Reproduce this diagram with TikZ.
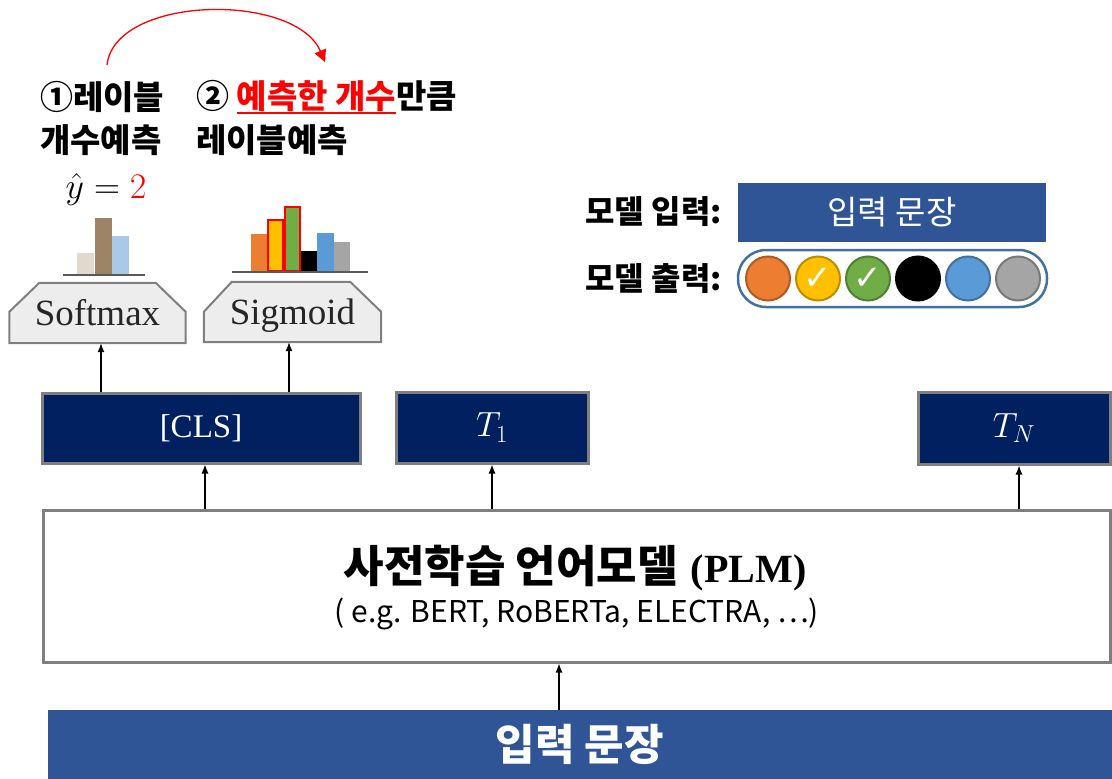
\RequirePackage{fix-cm}
\documentclass[tikz,border=0pt]{standalone}
\usepackage{fontspec}
\newfontfamily\kr{Noto Sans CJK KR}
\newfontfamily\dv{DejaVu Sans}
\newfontfamily\serif{Liberation Serif}
\usetikzlibrary{arrows.meta,backgrounds,calc}
\definecolor{navy}{HTML}{002060}
\definecolor{inblue}{HTML}{2F5597}
\definecolor{bordgray}{HTML}{7F7F7F}
\definecolor{chfill}{HTML}{EDEDED}
\definecolor{pillb}{HTML}{41719C}
\definecolor{cOrange}{HTML}{ED7D31}
\definecolor{cOrangeD}{HTML}{AE5A21}
\definecolor{cYellow}{HTML}{FFC000}
\definecolor{cYellowD}{HTML}{BC8C00}
\definecolor{cGreen}{HTML}{70AD47}
\definecolor{cGreenD}{HTML}{507E32}
\definecolor{cBlue}{HTML}{5B9BD5}
\definecolor{cBlueD}{HTML}{41719C}
\definecolor{cGray}{HTML}{A5A5A5}
\definecolor{cGrayD}{HTML}{787878}
\definecolor{beige}{HTML}{E0D9CF}
\definecolor{brownbar}{HTML}{9E8466}
\definecolor{lblue}{HTML}{A9C9E7}
\definecolor{axisgray}{HTML}{595959}
\newcommand\fsz[1]{\fontsize{#1}{#1}\selectfont}
\newcommand\redul[1]{\setbox0\hbox{#1}\rlap{\textcolor{red}{\rule[-5pt]{\wd0}{2pt}}}\box0}
\begin{document}
\begin{tikzpicture}[x=1pt,y=-1pt,
  tok/.style={draw=bordgray, line width=3pt, fill=navy, text=white, inner sep=0pt},
  arr/.style={-{Latex[length=9pt,width=7pt]}, line width=1.2pt},
  fn/.style={inner sep=0pt, font=\serif\fsz{37}, text=black!85, minimum width=176pt, minimum height=60pt, text height=30pt, text depth=6pt},
  chamf/.style={fill=chfill, draw=bordgray, line width=2pt},
  lbl/.style={inner sep=0pt, anchor=west, font=\kr\bfseries\fsz{33}},
  rlbl/.style={inner sep=0pt, anchor=east, font=\kr\bfseries\fsz{32}},
  dot/.style={circle, minimum size=44pt, inner sep=0pt, line width=2pt},
  chk/.style={text=white, font=\dv\fsz{34}},
  redbar/.style={draw=red, line width=2.5pt},
  base/.style={draw=axisgray, line width=2.5pt}
]
\useasboundingbox (0,0) rectangle (1112,779);

% bottom input bar
\node[fill=inblue, minimum width=1064pt, minimum height=69pt, inner sep=0pt, text=white, font=\kr\bfseries\fsz{43}] (inp) at (580,744.5) {입력 문장};

% PLM box
\node[draw=bordgray, line width=3pt, fill=white, minimum width=1067pt, minimum height=152pt, inner sep=0pt] (plm) at (576.5,586) {};
\node[inner sep=0pt, font=\fsz{44}] (plmt) at (575,568) {{\kr\bfseries 사전학습 언어모델} {\serif\fsz{40}\bfseries (PLM)}};
\node[inner sep=0pt, font=\kr\fsz{30}] (plms) at (577,614) {( e.g. BERT, RoBERTa, ELECTRA, …)};

\draw[arr] ([xshift=-21pt]inp.north) -- ([xshift=-21pt]inp.north |- plm.south);

% token boxes
\node[tok, minimum width=318pt, minimum height=70pt, font=\serif\fsz{33}] (cls) at (201,428) {[CLS]};
\node[tok, minimum width=192pt, minimum height=71pt, font=\fsz{35}] (t1) at (492,427.5) {$T_1$};
\node[tok, minimum width=192pt, minimum height=72pt, font=\fsz{35}] (tn) at (1014,428) {$T_N$};

\draw[arr] ([xshift=4pt]cls.south |- plm.north) -- ([xshift=4pt]cls.south);
\draw[arr] (t1.south |- plm.north) -- (t1.south);
\draw[arr] ([xshift=5pt]tn.south |- plm.north) -- ([xshift=5pt]tn.south);

% softmax / sigmoid
\node[fn] (smx) at (97.5,313) {Softmax};
\node[fn, minimum width=177pt] (sgm) at (292.5,312) {Sigmoid};
\begin{scope}[on background layer]
  \draw[chamf] (smx.south west) -- ($(smx.north west)+(0,29)$) -- ($(smx.north west)+(30,0)$)
     -- ($(smx.north east)+(-30,0)$) -- ($(smx.north east)+(0,29)$) -- (smx.south east) -- cycle;
  \draw[chamf] (sgm.south west) -- ($(sgm.north west)+(0,30)$) -- ($(sgm.north west)+(28,0)$)
     -- ($(sgm.north east)+(-31,0)$) -- ($(sgm.north east)+(0,30)$) -- (sgm.south east) -- cycle;
\end{scope}
\draw[arr] ([xshift=3.5pt]smx.south |- cls.north) -- ([xshift=3.5pt]smx.south);
\draw[arr] ([xshift=-3.5pt]sgm.south |- cls.north) -- ([xshift=-3.5pt]sgm.south);

% softmax bars
\fill[beige] (77,253) rectangle (94,274);
\fill[brownbar] (95,218) rectangle (112,274);
\fill[lblue] (112,236) rectangle (129,274);
\draw[base] (63,275) -- (145,275);

% sigmoid bars
\fill[cOrange] (251,234) rectangle (267,271);
\fill[black] (300,251) rectangle (317,271);
\fill[cBlue] (317,233) rectangle (334,271);
\fill[cGray] (334,242) rectangle (350,271);
\draw[redbar, fill=cYellow] (268,220) rectangle (283,271);
\draw[redbar, fill=cGreen] (285,207) rectangle (300,271);
\draw[base] (232,272) -- (368,272);

% y hat
\node[inner sep=0pt, font=\fsz{36}] (yhat) at (106,189) {$\hat{y} = {\color{red}2}$};

% top labels
\node[lbl] (l1a) at (40,97) {①레이블};
\node[lbl] (l1b) at (40,140) {개수예측};
\node[lbl] (l2a) at (196,97) {② \redul{\textcolor{red}{예측한 개수}}만큼};
\node[lbl] (l2b) at (196,140) {레이블예측};

\coordinate (arcs) at (107,65);
\coordinate (arce) at (325,62);
\draw[red, line width=1.3pt, -{Triangle[length=12pt,width=12pt]}] (arcs) .. controls (115,-5) and (295,-8) .. (arce);

% right legend
\node[rlbl] (min) at (722,212) {모델 입력:};
\node[rlbl] (mout) at (722,279) {모델 출력:};
\node[fill=inblue, minimum width=308pt, minimum height=59pt, inner sep=0pt, text=white, font=\kr\fsz{33}] (inbox) at (892,212.5) {입력 문장};
\node[draw=pillb, line width=2.5pt, rounded corners=28pt, minimum width=309pt, minimum height=57pt, inner sep=0pt] (pill) at (892.5,278.5) {};
\node[dot, fill=cOrange, draw=cOrangeD] (c1) at (768,278.5) {};
\node[dot, fill=cYellow, draw=cYellowD, chk] (c2) at (818,278.5) {✓};
\node[dot, fill=cGreen, draw=cGreenD, chk] (c3) at (868,278.5) {✓};
\node[dot, fill=black, draw=black] (c4) at (918,278.5) {};
\node[dot, fill=cBlue, draw=cBlueD] (c5) at (968,278.5) {};
\node[dot, fill=cGray, draw=cGrayD] (c6) at (1018,278.5) {};
\end{tikzpicture}
\end{document}
